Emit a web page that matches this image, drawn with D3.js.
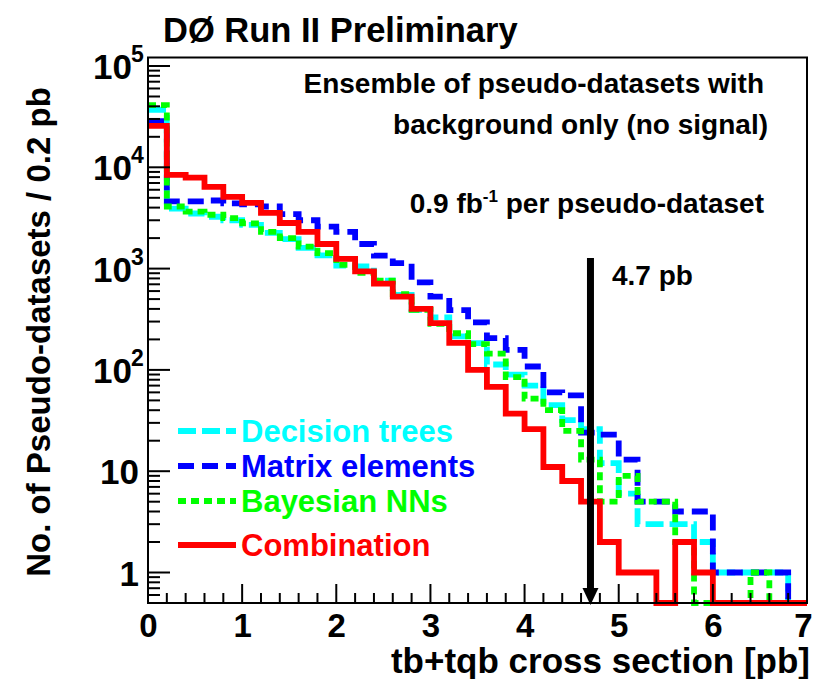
<!DOCTYPE html>
<html>
<head>
<meta charset="utf-8">
<script src="https://cdn.jsdelivr.net/npm/d3@7"></script>
<style>
  html, body { margin: 0; padding: 0; background: #ffffff; }
  svg { display: block; }
  text { font-family: "Liberation Sans", Arial, Helvetica, sans-serif; font-weight: bold; fill: #000; }
</style>
</head>
<body>
<svg id="chart" width="815" height="679"></svg>
<script>
// Bin layout: 35 bins of 0.2 pb from 0 to 7 pb
const binWidth = 0.2;
const nBins = 35;

// Counts per bin for each method (pseudo-datasets, background only)
const decisionTrees = [37000, 3900, 3500, 3250, 3000, 2700, 2250, 1950, 1600, 1350,
  1070, 1050, 760, 550, 392, 330, 214, 184, 113, 90,
  70, 45, 32, 26, 12, 6, 3, 3, 3, 2,
  1, 1, 1, 1, 0];
const matrixElements = [28500, 4600, 4600, 4700, 4400, 4300, 4100, 3450, 3000, 2600,
  2300, 1750, 1340, 1130, 730, 530, 390, 295, 206, 158,
  108, 60, 56, 24, 23, 13, 5, 5, 4, 4,
  1, 1, 1, 1, 0];
const bayesianNNs = [41000, 4100, 3650, 3400, 3150, 2800, 2300, 2000, 1650, 1420,
  1090, 910, 760, 560, 392, 285, 230, 180, 145, 85,
  52, 40, 25, 13, 5, 9, 5, 5, 2, 0,
  0, 0, 1, 0, 0];
const combination = [25600, 8400, 7900, 6400, 5100, 4450, 3550, 2820, 2300, 1750,
  1250, 940, 710, 530, 400, 290, 185, 100, 68, 37,
  26, 11, 8, 5, 2, 1, 1, 0, 2, 1,
  0, 0, 0, 0, 0];

const seriesNames = ["Decision trees", "Matrix elements", "Bayesian NNs", "Combination"];
const seriesColors = ["#00ffff", "#0000ff", "#00ff00", "#ff0000"];
const seriesDash = ["18,6", "16,8", "8,5", null];
const seriesValues = [decisionTrees, matrixElements, bayesianNNs, combination];

const xTickValues = [0, 1, 2, 3, 4, 5, 6, 7];
const yDecades = [1, 10, 100, 1000, 10000, 100000];
const observed = 4.7;   // measured cross section, pb

(function draw() {
  const svg = d3.select("#chart");
  const pLeft = 148, pRight = 807, pTop = 57.5, pBottom = 603;

  const x = d3.scaleLinear().domain([0, 7]).range([pLeft, pRight]);
  const yMin = 0.5, yMax = 1.213e5;
  const y = d3.scaleLog().domain([yMin, yMax]).range([pBottom, pTop]);

  // ---- histograms ----
  const stepLine = d3.line()
    .x(d => x(d[0]))
    .y(d => y(Math.max(d[1], yMin)))
    .curve(d3.curveStepAfter);

  const gHist = svg.append("g");
  seriesValues.forEach((vals, s) => {
    const pts = vals.map((v, i) => [i * binWidth, v]);
    pts.push([nBins * binWidth, vals[nBins - 1]]);
    gHist.append("path")
      .attr("d", stepLine(pts))
      .attr("fill", "none")
      .attr("stroke", seriesColors[s])
      .attr("stroke-width", 5.8)
      .attr("stroke-dasharray", seriesDash[s])
      .attr("stroke-linejoin", "miter")
      .attr("stroke-linecap", "butt");
  });

  // ---- frame ----
  svg.append("rect")
    .attr("x", pLeft).attr("y", pTop)
    .attr("width", pRight - pLeft).attr("height", pBottom - pTop)
    .attr("fill", "none").attr("stroke", "#000").attr("stroke-width", 2);

  // ---- x axis ----
  const xMinor = d3.range(0, 7.0001, binWidth);
  svg.append("g").selectAll("line").data(xMinor).join("line")
    .attr("x1", d => x(d)).attr("x2", d => x(d))
    .attr("y1", pBottom)
    .attr("y2", d => Math.abs(d - Math.round(d)) < 1e-6 ? pBottom - 19 : pBottom - 10)
    .attr("stroke", "#000").attr("stroke-width", 2);
  const xAxis = d3.axisBottom(x).tickValues(xTickValues).tickSize(0).tickPadding(0)
    .tickFormat(d3.format("d"));
  const gx = svg.append("g").attr("transform", `translate(0,${pBottom})`).call(xAxis);
  gx.select(".domain").remove();
  gx.selectAll("text")
    .attr("y", 34).attr("dy", null)
    .attr("x", d => d === 7 ? -4 : 0)
    .attr("font-size", 33)
    .attr("font-family", "Liberation Sans, Arial, sans-serif")
    .attr("font-weight", "bold")
    .style("fill", "#000");

  // ---- y axis ----
  const yMinorVals = [];
  for (let k = -1; k <= 5; k++) {
    for (let m = 1; m <= 9; m++) {
      const v = m * Math.pow(10, k);
      if (v >= yMin && v <= yMax) yMinorVals.push(v);
    }
  }
  svg.append("g").selectAll("line").data(yMinorVals).join("line")
    .attr("x1", pLeft)
    .attr("x2", d => yDecades.includes(d) ? pLeft + 22 : pLeft + 12)
    .attr("y1", d => y(d)).attr("y2", d => y(d))
    .attr("stroke", "#000").attr("stroke-width", 2);

  svg.append("g").selectAll("text").data(yDecades).join("text")
    .attr("x", d => d >= 100 ? 132 : 139)
    .attr("y", d => y(d) + 13)
    .attr("text-anchor", "end")
    .attr("font-size", 35)
    .text(d => d === 1 ? "1" : "10");
  svg.append("g").selectAll("text").data(yDecades.filter(d => d >= 100)).join("text")
    .attr("x", 131).attr("y", d => y(d) - 4)
    .attr("font-size", 23)
    .text(d => Math.round(Math.log10(d)));

  // ---- axis titles ----
  svg.append("text")
    .attr("x", 810).attr("y", 673)
    .attr("text-anchor", "end")
    .attr("font-size", 35)
    .text("tb+tqb cross section [pb]");
  svg.append("text")
    .attr("transform", "translate(50,332) rotate(-90)")
    .attr("text-anchor", "middle")
    .attr("font-size", 33)
    .text("No. of Pseudo-datasets / 0.2 pb");

  // ---- title and annotations ----
  svg.append("text")
    .attr("x", 163).attr("y", 42)
    .attr("font-size", 34.5)
    .text("DØ Run II Preliminary");

  const ann = svg.append("g").attr("text-anchor", "end").attr("font-size", 28);
  ann.append("text").attr("x", 764).attr("y", 93).text("Ensemble of pseudo-datasets with");
  ann.append("text").attr("x", 768).attr("y", 134).text("background only (no signal)");
  const lumi = ann.append("text").attr("x", 764).attr("y", 213);
  lumi.append("tspan").text("0.9 fb");
  lumi.append("tspan").attr("font-size", 17).attr("dy", -11).text("-1");
  lumi.append("tspan").attr("dy", 11).text(" per pseudo-dataset");

  svg.append("text")
    .attr("x", 612).attr("y", 285)
    .attr("font-size", 28)
    .text(observed + " pb");

  // ---- arrow at the observed value ----
  svg.append("line")
    .attr("x1", x(observed)).attr("x2", x(observed))
    .attr("y1", 258).attr("y2", 592)
    .attr("stroke", "#000").attr("stroke-width", 7);
  svg.append("path")
    .attr("d", d3.line()([[x(observed) - 8, 588], [x(observed) + 8, 588], [x(observed), 605]]) + "Z")
    .attr("fill", "#000");

  // ---- legend ----
  const legY = [431, 466, 501, 545];
  const leg = svg.append("g");
  seriesNames.forEach((name, s) => {
    leg.append("line")
      .attr("x1", 178).attr("x2", 236)
      .attr("y1", legY[s]).attr("y2", legY[s])
      .attr("stroke", seriesColors[s])
      .attr("stroke-width", 5.8)
      .attr("stroke-dasharray", seriesDash[s]);
    leg.append("text")
      .attr("x", 241).attr("y", legY[s] + 11)
      .attr("font-size", 31)
      .style("fill", seriesColors[s])
      .text(name);
  });
})();
</script>
</body>
</html>
